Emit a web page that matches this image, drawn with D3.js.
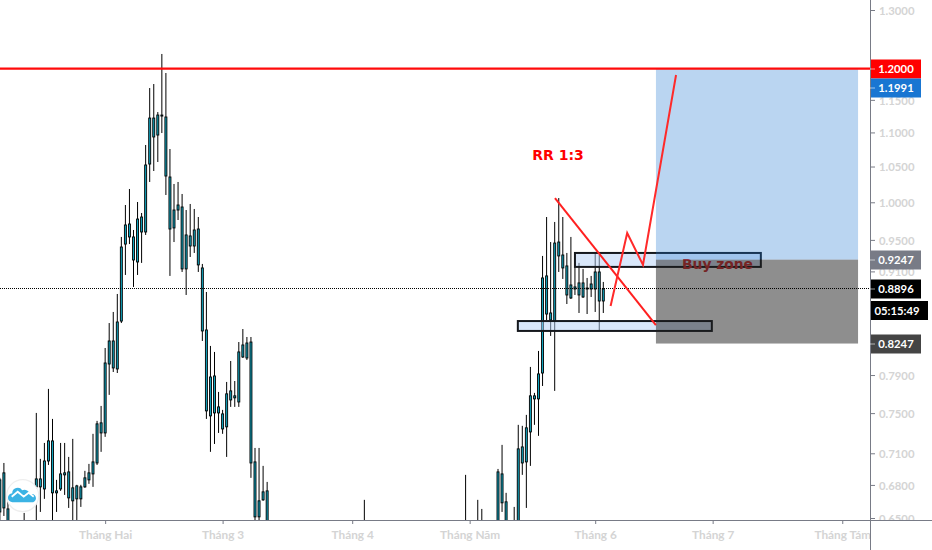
<!DOCTYPE html>
<html><head><meta charset="utf-8">
<script src="https://cdnjs.cloudflare.com/ajax/libs/d3/7.8.5/d3.min.js"></script>
<style>html,body{margin:0;padding:0;background:#fff;overflow:hidden}svg{display:block}</style>
</head><body><svg id="c" width="932" height="550"></svg>
<script>
const barNumbers=[0,1,2,6,9,10,11,12,13,14,15,16,17,18,19,20,21,22,23,24,25,26,27,28,29,30,31,32,33,34,35,36,37,38,39,40,41,42,43,44,45,46,47,48,49,50,51,52,53,54,55,56,57,58,59,60,61,62,63,64,65,66,90,115,118,119,123,124,125,127,128,129,130,131,132,133,134,135,136,137,138,139,140,141,142,143,144,145,146,147,148,149];
const highs=[.6866,.7007,.6727,.6545,.7502,.7046,.7201,.7752,.7441,.6847,.7201,.7201,.7065,.7241,.6801,.6801,.6932,.6998,.7291,.7421,.7574,.8197,.8481,.8610,.8824,.9538,.9963,1.0183,.9629,1.0004,.9855,1.0813,1.1687,1.1751,1.1310,1.2243,1.1929,1.0754,1.0253,1.0281,1.0114,.9895,.9977,.9909,.9801,.9193,.8848,.8220,.8153,.7720,.7533,.7826,.8053,.7836,.8264,.8412,.8321,.8321,.7152,.7152,.6979,.6828,.6663,.6894,.6663,.6581,.6950,.7182,.6727,.6599,.7381,.7371,.7482,.7988,.7710,.8164,.9294,.9801,.9472,.9735,1.0058,.9801,.9332,.9538,.9218,.9206,.9131,.9019,.9044,.9345,.9306,.8970];
const bodyTops=[.6847,.6913,.6581,.6439,.6856,.6856,.7026,.7221,.7221,.6745,.6903,.6913,.6922,.6773,.6791,.6782,.6866,.6913,.7017,.7391,.7401,.8031,.8276,.8276,.8493,.9408,.9695,.9708,.9538,.9774,.9801,1.0522,1.1218,1.1218,1.1264,1.1264,1.1234,1.0351,.9895,.9963,.9936,.9564,.9551,.9629,.9642,.9143,.8401,.7879,.7890,.7564,.7492,.7700,.7731,.7679,.8153,.8231,.8253,.8264,.7017,.6654,.6736,.6745,.6439,.6439,.6439,.6439,.6922,.6903,.6645,.6439,.7143,.7162,.7351,.7679,.7679,.7912,.9019,.9044,.8598,.9459,.9472,.9306,.9168,.8933,.8909,.8958,.8958,.8896,.8945,.9093,.9093,.8884];
const bodyBottoms=[.6554,.6590,.6395,.6351,.6782,.6782,.6763,.7026,.6727,.6727,.6763,.6894,.6681,.6654,.6672,.6672,.6782,.6847,.6903,.7007,.7300,.7300,.8020,.7977,.7966,.8504,.9446,.9538,.9243,.9218,.9603,.9603,1.0536,1.0932,1.0961,1.1249,1.0365,.9642,.9656,.9895,.9131,.9131,.9421,.9421,.9181,.8390,.7523,.7472,.7502,.7502,.7340,.7361,.7636,.7658,.7615,.8097,.8086,.7007,.6510,.6510,.6663,.6439,.6351,.6351,.6351,.6351,.6439,.6636,.6439,.6351,.6439,.7007,.7017,.7310,.7647,.7647,.7922,.8586,.8516,.8504,.9294,.9143,.8812,.8776,.8884,.8812,.8788,.8884,.8884,.8884,.8740,.8740];
const lows=[.6439,.6518,.6308,.6308,.6395,.6554,.6672,.6988,.6439,.6554,.6745,.6708,.6590,.6439,.6439,.6599,.6773,.6810,.6782,.6988,.7114,.7261,.7689,.7933,.7922,.8481,.9056,.9446,.8909,.9056,.9206,.9564,1.0281,1.0436,1.0565,1.0991,1.0100,.9044,.9472,.9761,.9093,.8812,.9281,.9332,.9093,.8276,.7441,.7114,.7191,.7300,.7291,.7065,.7564,.7564,.7564,.8086,.8064,.6866,.6395,.6439,.6654,.6395,.6308,.6308,.6308,.6308,.6395,.6554,.6395,.6308,.6395,.6894,.6590,.6979,.7381,.7271,.7783,.8516,.8333,.7731,.9093,.9007,.8704,.8764,.8812,.8598,.8776,.8586,.8788,.8610,.8390,.8598];

const priceTicks=[1.3,1.2,1.15,1.1,1.05,1.0,.95,.91,.79,.75,.71,.68,.65];
const monthBars=[26,55,87,116,147,176,208];
const monthLabels=["Tháng Hai","Tháng 3","Tháng 4","Tháng Năm","Tháng 6","Tháng 7","Tháng Tám"];

const resistancePrice=1.2, currentPrice=.8885;
const zoneBars=[162,211.9], zoneTop=1.2, zoneEntry=.9247, zoneStop=.8247;
const upperBoxBars=[142,187.9], upperBoxPrices=[.9332,.9156];
const lowerBoxBars=[127.9,175.8], lowerBoxPrices=[.8504,.8390];
const trendBars=[137.07,161.99], trendPrices=[1.0058,.8458];
const pathBars=[150.8,154.9,158.8,166.96], pathPrices=[.8680,.9590,.9181,1.1896];
const rrLabel="RR 1:3", buyLabel="Buy zone";
const priceTags=[["1.2000",1.2,"#ff0000",0],["1.1991",1.1991,"#1976d2",19],["0.9247",.9247,"#787b86",0],["0.8896",.8885,"#000000",0],["0.8247",.8247,"#444444",0]];
const countdown="05:15:49";

const W=932,H=550,axisX=870,axisY=520;
const svg=d3.select("#c");
const x=d3.scaleLinear().domain([9,209]).range([36.3,846.3]);
const y=d3.scaleLog().domain([.65,1.3]).range([518,10]);
const font="Lato, sans-serif";
const defs=svg.append("defs");
defs.append("clipPath").attr("id","plot").append("rect").attr("width",axisX).attr("height",axisY);
defs.append("clipPath").attr("id","pa").append("rect").attr("x",axisX).attr("width",W-axisX).attr("height",axisY);
defs.append("clipPath").attr("id","ta").append("rect").attr("y",axisY).attr("width",axisX).attr("height",H-axisY);

const plot=svg.append("g").attr("clip-path","url(#plot)");

// candles
const rows=barNumbers.map((b,i)=>({b,h:highs[i],t:bodyTops[i],m:bodyBottoms[i],l:lows[i]}));
const cg=plot.append("g");
cg.selectAll("line").data(rows).join("line")
 .attr("x1",d=>x(d.b)).attr("x2",d=>x(d.b)).attr("y1",d=>y(d.h)).attr("y2",d=>y(d.l))
 .attr("stroke","#000").attr("stroke-width",1);
cg.selectAll("rect").data(rows).join("rect")
 .attr("x",d=>x(d.b)-1).attr("width",2).attr("y",d=>y(d.t))
 .attr("height",d=>Math.max(1,y(d.m)-y(d.t)))
 .attr("fill","#0fa3bd").attr("stroke","#000").attr("stroke-width",.9);

// boxes
function box(bars,prices){plot.append("rect").attr("x",x(bars[0])).attr("width",x(bars[1])-x(bars[0]))
 .attr("y",y(prices[0])).attr("height",y(prices[1])-y(prices[0]))
 .attr("fill","rgba(180,208,245,.5)").attr("stroke","#15181d").attr("stroke-width",2);}
box(upperBoxBars,upperBoxPrices);box(lowerBoxBars,lowerBoxPrices);

// buy zone text under the grey zone
plot.append("text").attr("x",717.5).attr("y",y(.9247)+9).attr("text-anchor","middle")
 .attr("font-family","'DejaVu Sans',sans-serif").attr("font-weight","bold").attr("font-size",13.8).attr("fill","#cc2a2a").text(buyLabel);

// risk/reward zones
plot.append("rect").attr("x",x(zoneBars[0])).attr("width",x(zoneBars[1])-x(zoneBars[0]))
 .attr("y",y(zoneTop)).attr("height",y(zoneEntry)-y(zoneTop)).attr("fill","rgba(33,118,210,.31)");
plot.append("rect").attr("x",x(zoneBars[0])).attr("width",x(zoneBars[1])-x(zoneBars[0]))
 .attr("y",y(zoneEntry)).attr("height",y(zoneStop)-y(zoneEntry)).attr("fill","rgba(30,30,30,.5)");

// lines
plot.append("line").attr("x1",0).attr("x2",axisX).datum(currentPrice)
 .attr("y1",d=>Math.floor(y(d))+.5).attr("y2",d=>Math.floor(y(d))+.5)
 .attr("stroke","#000").attr("stroke-width",1).attr("stroke-dasharray","1 1").attr("shape-rendering","crispEdges");
plot.append("line").attr("x1",0).attr("x2",axisX).attr("y1",y(resistancePrice)).attr("y2",y(resistancePrice))
 .attr("stroke","#ff0a0a").attr("stroke-width",2.4);
plot.append("line").attr("x1",x(trendBars[0])).attr("x2",x(trendBars[1])).attr("y1",y(trendPrices[0])).attr("y2",y(trendPrices[1]))
 .attr("stroke","#ff2020").attr("stroke-width",2);
plot.append("path").attr("d",d3.line().x(d=>x(d[0])).y(d=>y(d[1]))(pathBars.map((b,i)=>[b,pathPrices[i]])))
 .attr("fill","none").attr("stroke","#ff2a2a").attr("stroke-width",2);
plot.append("text").attr("x",558).attr("y",159.5).attr("text-anchor","middle")
 .attr("font-family","'DejaVu Sans',sans-serif").attr("font-weight","bold").attr("font-size",14).attr("fill","#ff0000").text(rrLabel);

// axes
const pa=svg.append("g").attr("clip-path","url(#pa)").append("g").attr("transform",`translate(${axisX},0)`)
 .call(d3.axisRight(y).tickValues(priceTicks).tickFormat(d3.format(".4f")).tickSize(5).tickPadding(4));
pa.select(".domain").remove();
pa.selectAll("line").attr("stroke","#787b86");
pa.selectAll("text").attr("fill","#d4d4d4").attr("font-family",font).attr("font-size",11.3).attr("font-weight","bold").attr("dy","0.38em");
const xa=svg.append("g").attr("clip-path","url(#ta)").append("g").attr("transform",`translate(0,${axisY})`)
 .call(d3.axisBottom(x).tickValues(monthBars).tickFormat((d,i)=>monthLabels[i]).tickSize(4).tickPadding(7));
xa.select(".domain").remove();
xa.selectAll("line").attr("stroke","#787b86");
xa.selectAll("text").attr("fill","#d4d4d4").attr("font-family",font).attr("font-size",11.8).attr("font-weight","bold");
svg.append("line").attr("x1",0).attr("x2",W).attr("y1",axisY+.5).attr("y2",axisY+.5).attr("stroke","#787b86");
svg.append("line").attr("x1",axisX+.5).attr("x2",axisX+.5).attr("y1",0).attr("y2",H).attr("stroke","#787b86");

// price tags
priceTags.forEach(([txt,p,col,dy])=>{
 const cy=Math.round(y(p))+dy;
 svg.append("rect").attr("x",axisX+1).attr("y",cy-9.5).attr("width",50).attr("height",19).attr("fill",col);
 svg.append("line").attr("x1",axisX).attr("x2",axisX+5).attr("y1",cy).attr("y2",cy).attr("stroke","#fff").attr("stroke-opacity",.6);
 svg.append("text").attr("x",896).attr("y",cy+4).attr("text-anchor","middle").attr("fill","#fff")
  .attr("font-family",font).attr("font-size",11.3).attr("font-weight","bold").text(txt);
});
svg.append("rect").attr("x",axisX+1).attr("y",301).attr("width",57).attr("height",19).attr("fill","#000");
svg.append("text").attr("x",897).attr("y",314.5).attr("text-anchor","middle").attr("fill","#fff")
 .attr("font-family",font).attr("font-size",11.3).attr("font-weight","bold").text(countdown);

// logo
const logo=svg.append("g").attr("transform","translate(22.7,495.7)");
logo.append("circle").attr("r",16).attr("fill","#fff").attr("stroke","#eeeeee").attr("stroke-width",1.2);
logo.append("path").attr("d","M-10,6.5 a4.5,4.5 0 0 1 -0.5,-9 a5.5,5.5 0 0 1 10,-3 a6,6 0 0 1 8,4 a4,4 0 0 1 3,8 z").attr("fill","#3bb3e4");
logo.append("path").attr("d","M-11,1 L-5,-4 L1,1 L6,-3 L11,1").attr("fill","none").attr("stroke","#fff").attr("stroke-width",1.8);
</script></body></html>
